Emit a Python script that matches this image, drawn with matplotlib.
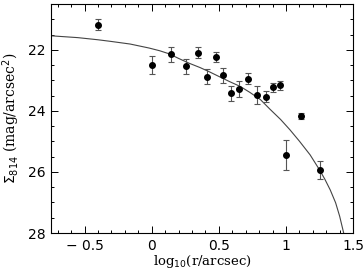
import matplotlib
matplotlib.use("Agg")
import matplotlib.pyplot as plt
from matplotlib.ticker import MultipleLocator

# surface brightness profile points
logr = [-0.40, 0.00, 0.144, 0.254, 0.343, 0.415, 0.48, 0.532, 0.592, 0.654,
        0.716, 0.784, 0.848, 0.905, 0.958, 1.00, 1.11, 1.254]
sigma = [21.18, 22.50, 22.15, 22.54, 22.09, 22.88, 22.23, 22.83, 23.42, 23.28,
         22.94, 23.48, 23.53, 23.23, 23.16, 25.44, 24.17, 25.93]
err = [0.18, 0.30, 0.24, 0.25, 0.18, 0.24, 0.16, 0.24, 0.24, 0.25,
       0.18, 0.28, 0.19, 0.14, 0.14, 0.50, 0.10, 0.30]

# model curve
model_x = [-0.75, -0.55, -0.40, -0.31, -0.16, -0.02, 0.06, 0.13, 0.20, 0.28,
           0.36, 0.43, 0.50, 0.58, 0.66, 0.73, 0.81, 0.88, 0.96, 1.03,
           1.10, 1.18, 1.25, 1.29, 1.33, 1.37, 1.40, 1.43]
model_y = [21.54, 21.60, 21.67, 21.72, 21.81, 21.94, 22.03, 22.13, 22.28, 22.44,
           22.58, 22.72, 22.87, 23.04, 23.20, 23.39, 23.63, 23.94, 24.28, 24.62,
           24.99, 25.44, 25.93, 26.24, 26.59, 27.01, 27.45, 28.0]

fig = plt.figure(figsize=(3.64, 2.70), dpi=100)
ax = fig.add_axes([0.140, 0.137, 0.830, 0.848])

ax.plot(model_x, model_y, color="#444444", lw=0.8)
ax.errorbar(logr, sigma, yerr=err, fmt="o", color="black", ms=4,
            ecolor="#555555", elinewidth=0.8, capsize=2.5, capthick=0.8)

ax.set_xlim(-0.75, 1.5)
ax.set_ylim(28, 20.5)
ax.xaxis.set_major_locator(MultipleLocator(0.5))
ax.xaxis.set_minor_locator(MultipleLocator(0.1))
ax.yaxis.set_major_locator(MultipleLocator(2))
ax.yaxis.set_minor_locator(MultipleLocator(0.5))
ax.xaxis.set_major_formatter(plt.FuncFormatter(
    lambda v, p: ("%g" % v).replace("-", "\u2212 ") if abs(v) > 1e-9 else "0"))
ax.tick_params(which="both", direction="in", top=True, right=True, labelsize=10)
ax.tick_params(which="major", length=5, width=0.7, pad=4)
ax.tick_params(which="minor", length=2.5, width=0.7)
for s in ax.spines.values():
    s.set_linewidth(0.8)

ax.set_xlabel(r"log$_{10}$(r/arcsec)", family="DejaVu Serif", fontsize=9.5, labelpad=0)
ax.set_ylabel(r"$\Sigma_{814}$ (mag/arcsec$^2$)", family="DejaVu Serif", fontsize=10, labelpad=4)

fig.savefig("out.png", dpi=100)
